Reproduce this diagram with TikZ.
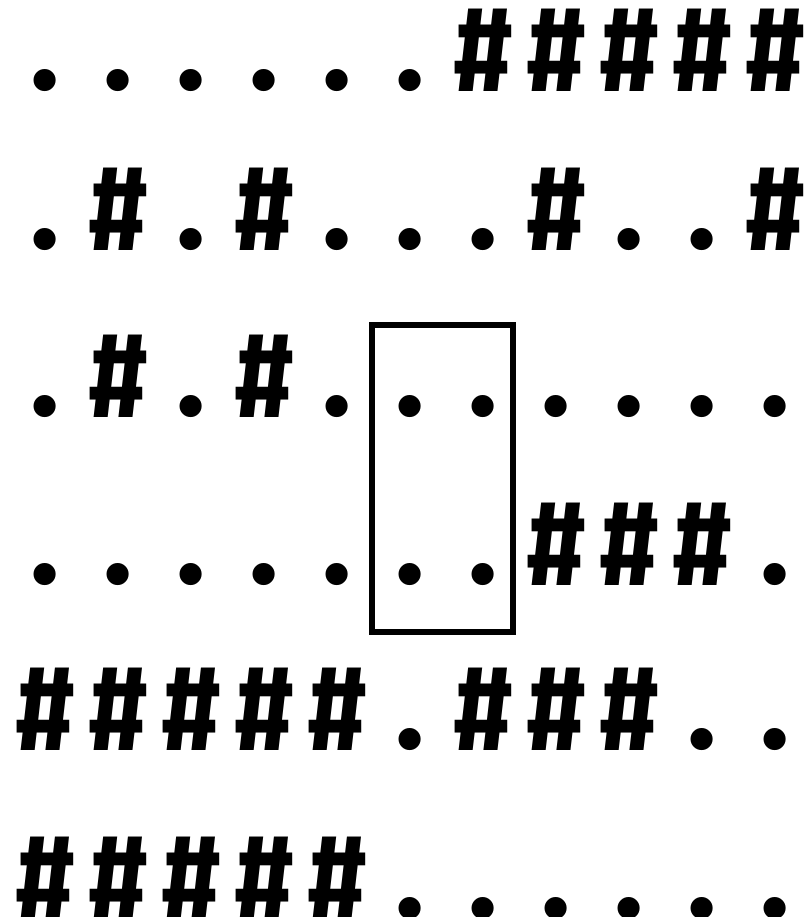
\documentclass[tikz,border=0pt]{standalone}
\usepackage{fontspec}
\setmainfont{Fira Sans}
\usepackage{tikz}
\usetikzlibrary{
  arrows.meta,
  positioning
}
\newcommand{\wallch}{\scalebox{0.88}[1]{\#}}

\begin{document}
\begin{tikzpicture}[
    x=1pt,
    y=-1pt,
    glyph/.style={inner sep=0pt,anchor=south,
      font=\fontsize{122}{122}\selectfont\bfseries},
    window/.style={draw,line width=6pt}
    ]
    
    \useasboundingbox (0,0) rectangle (805,917);
    \clip (0,0) rectangle (805,917);
    
    % map rows, bottom of each row given after the slash
    \foreach \cells/\yb [count=\r] in {
      {.,.,.,.,.,.,\wallch,\wallch,\wallch,\wallch,\wallch}/92,
      {.,\wallch,.,\wallch,.,.,.,\wallch,.,.,\wallch}/251,
      {.,\wallch,.,\wallch,.,.,.,.,.,.,.}/418,
      {.,.,.,.,.,.,.,\wallch,\wallch,\wallch,.}/586,
      {\wallch,\wallch,\wallch,\wallch,\wallch,.,\wallch,\wallch,\wallch,.,.}/751,
      {\wallch,\wallch,\wallch,\wallch,\wallch,.,.,.,.,.,.}/920}
    {
      \foreach \ch [count=\c] in \cells
        \node[glyph] (c-\r-\c) at ({45+73*(\c-1)},\yb) {\ch};
    }
    
    \draw[window] (372,325) rectangle (513,632);
    
\end{tikzpicture}
\end{document}
